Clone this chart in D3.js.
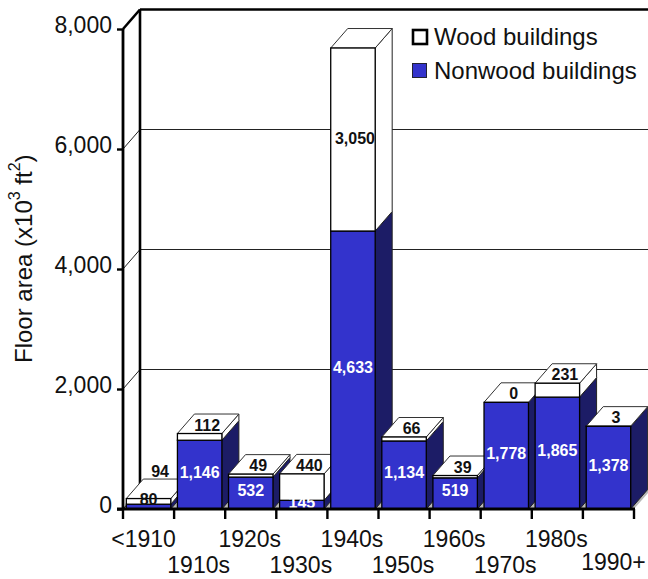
<!DOCTYPE html>
<html>
<head>
<meta charset="utf-8">
<script src="https://cdn.jsdelivr.net/npm/d3@7"></script>
<style>
  html, body { margin: 0; background: #fff; }
  svg { display: block; }
  text { font-family: "Liberation Sans", Arial, sans-serif; fill: #111; }
</style>
</head>
<body>
<svg id="chart" width="648" height="579"></svg>
<script>
const categories = ["<1910", "1910s", "1920s", "1930s", "1940s", "1950s", "1960s", "1970s", "1980s", "1990+"];
const nonwood = [80, 1146, 532, 145, 4633, 1134, 519, 1778, 1865, 1378];
const wood = [94, 112, 49, 440, 3050, 66, 39, 0, 231, 3];
const yTicks = [0, 2000, 4000, 6000, 8000];
const gridValues = [2000, 4000, 6000];
const legendItems = ["Wood buildings", "Nonwood buildings"];

const w = 648, h = 579;
const dx = 17, dy = -19.5; // oblique offset of the depth
const blue = "#3333cc", navy = "#1c1c66";

const svg = d3.select("#chart");
const fmt = d3.format(",");

const x = d3.scaleBand().domain(categories).range([123, 634])
  .paddingInner(0.13).paddingOuter(0.065);
const y = d3.scaleLinear().domain([0, 8000]).range([509, 29]);
const step = x.step();
const edges = d3.range(categories.length + 1).map(i => 123 + i * step);

const left = x.range()[0], right = x.range()[1];

const poly = pts => pts.map(p => p.join(",")).join(" ");

// floor
svg.append("polygon")
  .attr("points", poly([[left, y(0)], [right, y(0)], [right + dx, y(0) + dy], [left + dx, y(0) + dy]]))
  .attr("fill", "#b8b8b8");

// back wall gridlines, with their run down the side wall
const grid = svg.append("g").attr("stroke", "#222").attr("stroke-width", 1);
grid.selectAll(".back").data(gridValues).join("line")
  .attr("x1", left + dx).attr("x2", w)
  .attr("y1", d => y(d) + dy).attr("y2", d => y(d) + dy);
grid.selectAll(".side").data(gridValues).join("line")
  .attr("x1", left).attr("x2", left + dx)
  .attr("y1", d => y(d)).attr("y2", d => y(d) + dy);

// walls
const wall = svg.append("g").attr("stroke", "#000").attr("stroke-width", 2.6).attr("fill", "none");
wall.append("line").attr("x1", left + dx).attr("x2", left + dx).attr("y1", y(8000) + dy).attr("y2", y(0) + dy);
wall.append("line").attr("x1", left + dx).attr("x2", w).attr("y1", y(8000) + dy).attr("y2", y(8000) + dy);
wall.append("line").attr("x1", left).attr("x2", left + dx).attr("y1", y(8000)).attr("y2", y(8000) + dy);
svg.append("line").attr("x1", left).attr("x2", left + dx).attr("y1", y(0)).attr("y2", y(0) + dy)
  .attr("stroke", "#000");

// one 3D segment: side, top, front
function block(g, x0, bw, v0, v1, front, side, showTop) {
  const yb = y(v0), yt = y(v1), xr = x0 + bw;
  g.append("polygon")
    .attr("points", poly([[xr, yb], [xr + dx, yb + dy], [xr + dx, yt + dy], [xr, yt]]))
    .attr("fill", side).attr("stroke", "#222").attr("stroke-width", 1);
  if (showTop) {
    g.append("polygon")
      .attr("points", poly([[x0, yt], [xr, yt], [xr + dx, yt + dy], [x0 + dx, yt + dy]]))
      .attr("fill", "#fff").attr("stroke", "#333").attr("stroke-width", 1);
  }
  g.append("rect")
    .attr("x", x0).attr("y", yt).attr("width", bw).attr("height", yb - yt)
    .attr("fill", front).attr("stroke", "#000").attr("stroke-width", 1.3);
}

const bars = svg.append("g");
categories.forEach((c, i) => {
  const g = bars.append("g");
  const bw = x.bandwidth();
  block(g, x(c), bw, 0, nonwood[i], blue, navy, wood[i] === 0);
  if (wood[i] > 0) block(g, x(c), bw, nonwood[i], nonwood[i] + wood[i], "#fff", "#fff", true);
});

// value labels
const labels = svg.append("g")
  .attr("font-size", 16).attr("font-weight", "bold").attr("text-anchor", "middle");

labels.selectAll(".nonwood").data(categories).join("text")
  .text((c, i) => fmt(nonwood[i]))
  .attr("x", c => x(c) + x.bandwidth() / 2)
  .attr("y", (c, i) => nonwood[i] < 100 ? 505 : (y(0) + y(nonwood[i])) / 2 + 3)
  .style("fill", (c, i) => nonwood[i] < 100 ? "#111" : "#fff");

labels.selectAll(".wood").data(categories).join("text")
  .text((c, i) => fmt(wood[i]))
  .attr("x", (c, i) => {
    const mid = x(c) + x.bandwidth() / 2;
    if (wood[i] > 1000) return mid + 2;
    return mid + (i === 0 ? 11.5 : 7.5);
  })
  .attr("y", (c, i) => {
    const top = y(nonwood[i] + wood[i]);
    if (wood[i] > 1000) return (top + y(nonwood[i])) / 2 + 4;
    return i === 0 ? top - 22 : top - 3;
  })
  .style("fill", "#111");

// x axis: ticks sit on the band edges, labels stagger over two rows
svg.append("g").attr("stroke", "#000").attr("stroke-width", 2.4)
  .selectAll("line").data(edges).join("line")
  .attr("x1", d => d).attr("x2", d => d)
  .attr("y1", y(0)).attr("y2", y(0) + 10);
svg.append("line").attr("x1", left - 6).attr("x2", right + 1)
  .attr("y1", y(0)).attr("y2", y(0))
  .attr("stroke", "#000").attr("stroke-width", 2.8);

svg.append("g").attr("font-size", 23).attr("text-anchor", "middle")
  .selectAll("text").data(categories).join("text")
  .text(d => d)
  .attr("x", (d, i) => x(d) + x.bandwidth() / 2 + (i === 0 ? -5 : i === 9 ? 5 : -1))
  .attr("y", (d, i) => i === 9 ? 570 : i % 2 ? 573 : 547);

// y axis
const yAxis = d3.axisLeft(y).tickValues(yTicks).tickSize(6).tickPadding(5).tickFormat(fmt);
const ya = svg.append("g").attr("transform", `translate(${left},0)`).call(yAxis);
ya.selectAll("line").attr("stroke", "#000").attr("stroke-width", 2.4);
ya.select(".domain").attr("stroke", "#000").attr("stroke-width", 2.8)
  .attr("d", `M0,${y(8000)}V${y(0)}`);
ya.selectAll("text").attr("font-size", 23).attr("font-family", null).attr("dy", "0.17em");

// axis title
const title = svg.append("text")
  .attr("transform", "translate(32,363) rotate(-90)")
  .attr("font-size", 24);
title.append("tspan").text("Floor area (x10");
title.append("tspan").text("3").attr("font-size", 16).attr("dy", -12);
title.append("tspan").text(" ft").attr("dy", 12);
title.append("tspan").text("2").attr("font-size", 16).attr("dy", -12);
title.append("tspan").text(")").attr("dy", 12);

// legend
svg.append("rect").attr("x", 413).attr("y", 30).attr("width", 14).attr("height", 14)
  .attr("fill", "#fff").attr("stroke", "#000").attr("stroke-width", 2.6);
svg.append("rect").attr("x", 412.5).attr("y", 63.5).attr("width", 14).attr("height", 14)
  .attr("fill", blue).attr("stroke", "#223").attr("stroke-width", 1);
svg.append("g").attr("font-size", 24)
  .selectAll("text").data(legendItems).join("text")
  .text(d => d)
  .attr("x", 434)
  .attr("y", (d, i) => i === 0 ? 45 : 79);
</script>
</body>
</html>
